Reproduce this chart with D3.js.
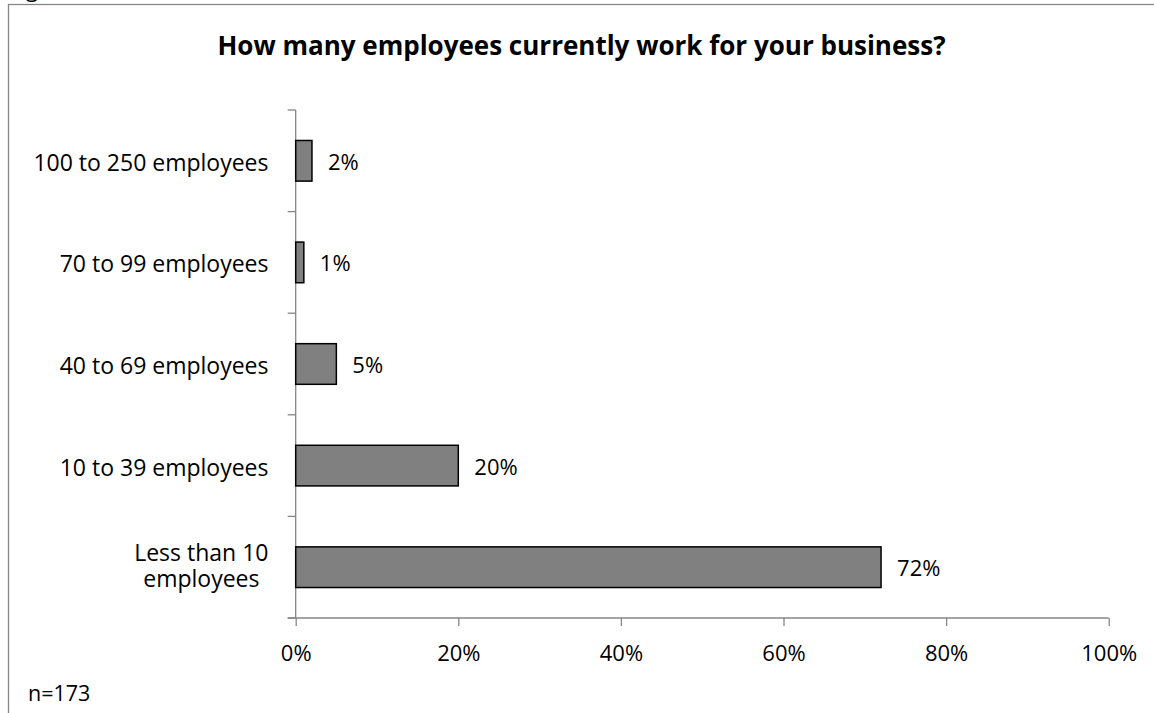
<!DOCTYPE html>
<html>
<head>
<meta charset="utf-8">
<script src="https://cdn.jsdelivr.net/npm/d3@7"></script>
<style>
  html, body { margin: 0; padding: 0; background: #fff; }
  svg { display: block; }
  text { font-family: "Open Sans", "DejaVu Sans", sans-serif; fill: #000; }
</style>
</head>
<body>
<svg id="chart" width="1154" height="713"></svg>
<script>
// Survey answers, listed top to bottom as shown on the chart
const categories = [
  "100 to 250 employees",
  "70 to 99 employees",
  "40 to 69 employees",
  "10 to 39 employees",
  "Less than 10\nemployees"
];
const shares = [2, 1, 5, 20, 72];          // percent of respondents
const tickValues = [0, 20, 40, 60, 80, 100];
const title = "How many employees currently work for your business?";
const sampleNote = "n=173";

const svg = d3.select("#chart");

// outer frame of the chart area (runs off the right and bottom edges)
svg.append("rect")
  .attr("x", 8.5).attr("y", 4.5)
  .attr("width", 1160).attr("height", 720)
  .attr("fill", "#fff")
  .attr("stroke", "#878787").attr("stroke-width", 1.3);

// descender of the caption line above the frame
svg.append("text")
  .attr("x", 26).attr("y", -3)
  .style("font-size", "22px")
  .text("g");

const plot = { left: 295.7, right: 1108.7, top: 110, bottom: 618 };

const x = d3.scaleLinear().domain([0, 100]).range([plot.left, plot.right]);
const y = d3.scaleBand().domain(categories)
  .range([plot.top, plot.bottom])
  .paddingInner(0.6).paddingOuter(0.3);

// title
svg.append("text")
  .attr("x", 581.5).attr("y", 55)
  .attr("text-anchor", "middle")
  .style("font-size", "26px").style("font-weight", "bold")
  .text(title);

// x axis
const xAxis = svg.append("g")
  .attr("transform", `translate(0,${plot.bottom})`)
  .call(d3.axisBottom(x).tickValues(tickValues).tickSize(8).tickSizeOuter(0)
    .tickFormat(d => d + "%"));
xAxis.select(".domain").remove();
xAxis.selectAll(".tick line").attr("stroke", "#868686").attr("stroke-width", 1.3);
xAxis.selectAll(".tick text")
  .attr("y", 0).attr("dy", null)
  .attr("transform", "translate(0,42.7)")
  .style("font-size", "22px").style("font-family", "\"Open Sans\", sans-serif")
  .attr("fill", "#000");
svg.append("line")
  .attr("x1", plot.left - 8).attr("x2", plot.right)
  .attr("y1", plot.bottom).attr("y2", plot.bottom)
  .attr("stroke", "#868686").attr("stroke-width", 1.3);

// y axis line with ticks on the category boundaries
svg.append("line")
  .attr("x1", plot.left).attr("x2", plot.left)
  .attr("y1", plot.top).attr("y2", plot.bottom)
  .attr("stroke", "#868686").attr("stroke-width", 1.3);
const boundaries = d3.range(categories.length + 1).map(i => plot.top + i * y.step());
svg.selectAll(".ytick").data(boundaries).join("line")
  .attr("class", "ytick")
  .attr("x1", plot.left - 8).attr("x2", plot.left)
  .attr("y1", d => d).attr("y2", d => d)
  .attr("stroke", "#868686").attr("stroke-width", 1.3);

// category labels (multi-line labels are centred on one another)
const labelRight = 268.5;
const labelSize = "23px";
categories.forEach(cat => {
  const lines = cat.split("\n");
  const cy = y(cat) + y.bandwidth() / 2;
  if (lines.length === 1) {
    svg.append("text").style("font-size", labelSize)
      .attr("x", labelRight).attr("y", cy + 10)
      .attr("text-anchor", "end").text(lines[0]);
  } else {
    const widest = Math.max(...lines.map(l => {
      const probe = svg.append("text").style("font-size", labelSize).text(l);
      const w = probe.node().getComputedTextLength();
      probe.remove();
      return w;
    }));
    const mid = labelRight - widest / 2;
    lines.forEach((l, i) => {
      svg.append("text").style("font-size", labelSize)
        .attr("x", mid).attr("y", cy - 6.3 + i * 26)
        .attr("text-anchor", "middle")
        .text(l);
    });
  }
});

// bars
const rows = categories.map((c, i) => ({ cat: c, value: shares[i] }));
svg.selectAll(".bar").data(rows).join("rect")
  .attr("class", "bar")
  .attr("x", x(0))
  .attr("y", d => y(d.cat))
  .attr("width", d => x(d.value) - x(0))
  .attr("height", y.bandwidth())
  .attr("fill", "#808080")
  .attr("stroke", "#000").attr("stroke-width", 1.5);

// value labels
svg.selectAll(".val").data(rows).join("text")
  .attr("class", "val")
  .attr("x", d => x(d.value) + 16)
  .attr("y", d => y(d.cat) + y.bandwidth() / 2 + 9)
  .style("font-size", "22px")
  .text(d => d.value + "%");

// sample size
svg.append("text")
  .attr("x", 28).attr("y", 700.7)
  .style("font-size", "21.5px")
  .text(sampleNote);
</script>
</body>
</html>
